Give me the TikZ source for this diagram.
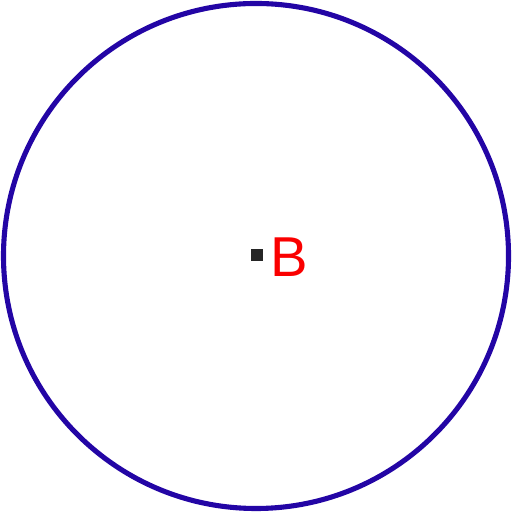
\documentclass[tikz,border=0pt]{standalone}
\usepackage{fontspec}
\setmainfont{Liberation Sans}
\definecolor{ringblue}{RGB}{35,5,165}
\definecolor{labelred}{RGB}{250,0,0}
\begin{document}
\begin{tikzpicture}
\useasboundingbox (0,0) rectangle (5.12,5.12);
\tikzset{ring/.style={draw=ringblue,line width=1.45pt},
  pointmark/.style={fill=black!85,inner sep=0pt,minimum size=0.12cm,draw=none},
  ptlabel/.style={text=labelred,font=\fontsize{16}{16}\selectfont,inner sep=0pt}}
\node[ring,circle,minimum size=5.05cm,inner sep=0pt] (c) at (2.56,2.56) {};
\node[pointmark] (p) at (2.57,2.565) {};
\node[ptlabel,anchor=base west] (b) at (2.70,2.35) {B};
\end{tikzpicture}
\end{document}
